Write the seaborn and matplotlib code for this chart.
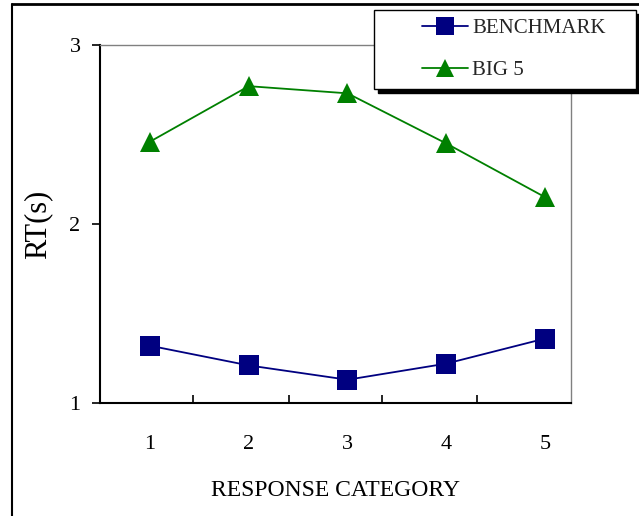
import matplotlib
matplotlib.use("Agg")
import matplotlib.pyplot as plt
from matplotlib.lines import Line2D
from matplotlib.legend_handler import HandlerLine2D
import seaborn as sns
import pandas as pd

categories = [1, 2, 3, 4, 5]
benchmark = [1.32, 1.21, 1.13, 1.22, 1.36]
big5 = [2.46, 2.77, 2.73, 2.45, 2.15]
series_names = ["BENCHMARK", "BIG 5"]
# separator ticks drawn between categories (as in the original)
separators = [1.44, 2.41, 3.35, 4.31]

df = pd.DataFrame({
    "category": categories * 2,
    "rt": benchmark + big5,
    "series": [series_names[0]] * 5 + [series_names[1]] * 5,
})

sns.set_theme(style="white")
plt.rcParams["font.family"] = ["Liberation Serif", "DejaVu Serif"]

fig = plt.figure(figsize=(6.39, 5.16), dpi=100)
ax = fig.add_axes([100 / 639, 1 - 403 / 516, 471 / 639, 358 / 516])

sns.lineplot(data=df, x="category", y="rt", hue="series", style="series",
             palette={"BENCHMARK": "#000080", "BIG 5": "#008000"},
             markers={"BENCHMARK": "s", "BIG 5": "^"}, dashes=False,
             markersize=15, markeredgewidth=0, linewidth=1.3, ax=ax)

ax.set_xlim(0.494, 5.263)
ax.set_ylim(1, 3)
ax.set_yticks([1, 2, 3])
ax.set_xticks(categories)
ax.set_xticks(separators, minor=True)
ax.tick_params(axis="x", which="major", bottom=False, length=0, pad=23, labelsize=16,
               labelcolor="black")
ax.tick_params(axis="x", which="minor", bottom=True, direction="in", length=6,
               width=1.2, color="black")
ax.tick_params(axis="y", which="major", left=True, direction="out", length=6, width=1.2,
               color="black", pad=8, labelsize=16, labelcolor="black")
for s in ["left", "bottom"]:
    ax.spines[s].set_color("black")
    ax.spines[s].set_linewidth(1.5)
for s in ["top", "right"]:
    ax.spines[s].set_color("#808080")
    ax.spines[s].set_linewidth(1.0)

ax.set_xlabel("RESPONSE CATEGORY", fontsize=17, labelpad=19, color="black")
ax.set_ylabel("RT(s)", fontsize=22, labelpad=12, color="black")

ax.get_legend().remove()
handles, labels = ax.get_legend_handles_labels()
leg = fig.legend(handles, labels, loc="upper left",
                 bbox_to_anchor=(374 / 639, 1 - 88 / 516, 262 / 639, 78 / 516),
                 mode="expand",
                 frameon=True, fancybox=False,
                 shadow={"color": "black", "alpha": 1, "ox": 3, "oy": -3},
                 edgecolor="black", fontsize=15, handlelength=4.1,
                 borderpad=0.4, labelspacing=1.1, handletextpad=0.2,
                 borderaxespad=0,
                 handler_map={Line2D: HandlerLine2D(xpad=1.9)})
leg.get_frame().set_linewidth(1.0)
for h in leg.legend_handles:
    h.set_markersize(13)

# outer frame of the original figure
fig.add_artist(Line2D([12 / 639, 12 / 639], [0, 1 - 4 / 516], color="black", lw=1.5))
fig.add_artist(Line2D([12 / 639, 1], [1 - 4 / 516, 1 - 4 / 516], color="black", lw=2))

fig.savefig("out.png", dpi=100)
